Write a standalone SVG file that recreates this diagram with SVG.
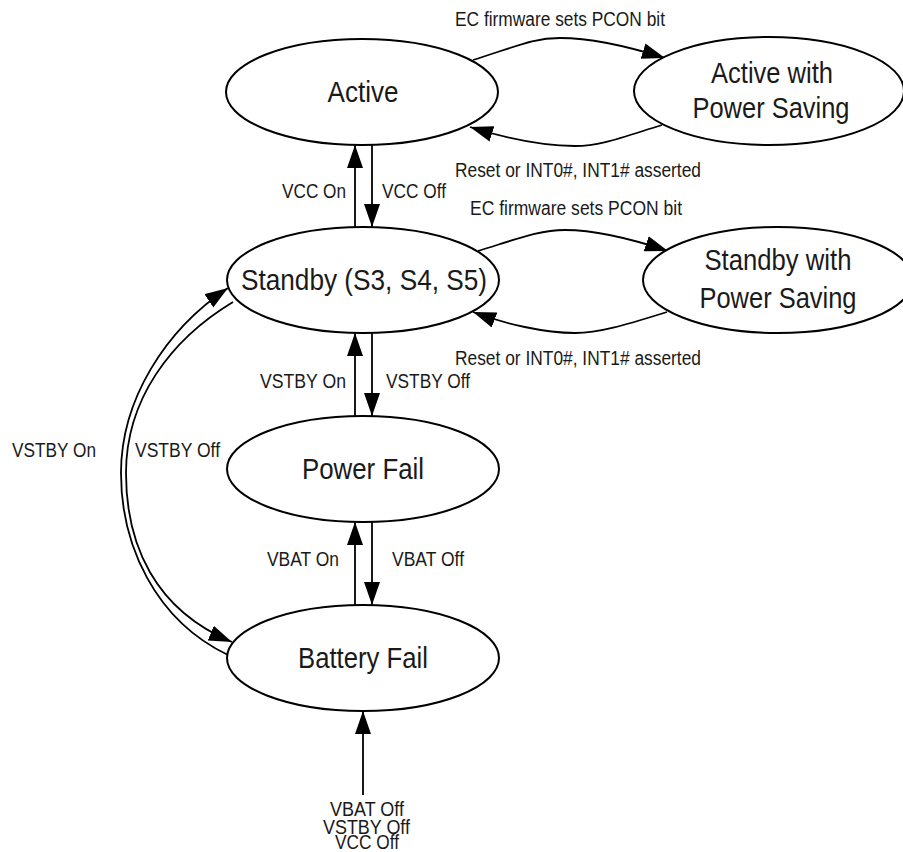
<svg xmlns="http://www.w3.org/2000/svg" width="903" height="852" viewBox="0 0 903 852">
<style>
.node ellipse{fill:#fff;stroke:#000;stroke-width:2}
.big{font-family:"Liberation Sans",Arial,sans-serif;font-size:30px;fill:#1a1a1a;text-anchor:middle}
.sm{font-family:"Liberation Sans",Arial,sans-serif;font-size:19.5px;fill:#1a1a1a}
.mid{text-anchor:middle}
.conn path,.conn line{fill:none;stroke:#000;stroke-width:1.8;marker-end:url(#ah)}
</style>
<defs>
<marker id="ah" markerUnits="userSpaceOnUse" markerWidth="24" markerHeight="18" refX="23" refY="8" orient="auto">
<path d="M0,0 L23,8 L0,16 z" fill="#000"/>
</marker>
</defs>
<rect width="903" height="852" fill="#fff"/>
<g id="connectors" class="conn">
<path d="M473,60 C520,45 535,38 560,38 C590,38 630,47 665,58"/>
<path d="M662,125 C620,138 600,146 575,146 C545,146 505,138 470,127"/>
<path d="M478,251 C520,238 540,230 565,230 C595,230 635,240 668,251"/>
<path d="M667,312 C625,325 600,333 575,333 C545,333 505,324 473,312"/>
<line x1="355" y1="227" x2="355" y2="145"/>
<line x1="372" y1="145" x2="372" y2="227"/>
<line x1="355" y1="416" x2="355" y2="333"/>
<line x1="372" y1="333" x2="372" y2="416"/>
<line x1="355" y1="605" x2="355" y2="522"/>
<line x1="372" y1="522" x2="372" y2="605"/>
<line x1="363" y1="795" x2="363" y2="711"/>
<path d="M228,655 C155,620 121,545 121,473 C121,400 165,330 228,288"/>
<path d="M233,302 C170,340 126,400 126,473 C126,545 155,610 232,642"/>
</g>
<g id="active" class="node"><ellipse cx="362" cy="92" rx="136" ry="53"/><text class="big" x="363" y="102" textLength="71" lengthAdjust="spacingAndGlyphs">Active</text></g>
<g id="active-ps" class="node"><ellipse cx="769" cy="91" rx="135" ry="54"/><text class="big" x="772" y="83" textLength="122" lengthAdjust="spacingAndGlyphs">Active with</text><text class="big" x="771" y="118" textLength="157" lengthAdjust="spacingAndGlyphs">Power Saving</text></g>
<g id="standby" class="node"><ellipse cx="363" cy="280" rx="136" ry="53"/><text class="big" x="364" y="290" textLength="246" lengthAdjust="spacingAndGlyphs">Standby (S3, S4, S5)</text></g>
<g id="standby-ps" class="node"><ellipse cx="778" cy="280" rx="135" ry="53"/><text class="big" x="778" y="270" textLength="147" lengthAdjust="spacingAndGlyphs">Standby with</text><text class="big" x="778" y="308" textLength="157" lengthAdjust="spacingAndGlyphs">Power Saving</text></g>
<g id="power-fail" class="node"><ellipse cx="363" cy="469" rx="136" ry="53"/><text class="big" x="363" y="479" textLength="122" lengthAdjust="spacingAndGlyphs">Power Fail</text></g>
<g id="battery-fail" class="node"><ellipse cx="363" cy="658" rx="136" ry="53"/><text class="big" x="363" y="668" textLength="130" lengthAdjust="spacingAndGlyphs">Battery Fail</text></g>
<g id="labels">
<text class="sm" x="455" y="26" textLength="210" lengthAdjust="spacingAndGlyphs">EC firmware sets PCON bit</text>
<text class="sm" x="455" y="177" textLength="246" lengthAdjust="spacingAndGlyphs">Reset or INT0#, INT1# asserted</text>
<text class="sm" x="470" y="215" textLength="212" lengthAdjust="spacingAndGlyphs">EC firmware sets PCON bit</text>
<text class="sm" x="455" y="365" textLength="246" lengthAdjust="spacingAndGlyphs">Reset or INT0#, INT1# asserted</text>
<text class="sm" x="282" y="198" textLength="64" lengthAdjust="spacingAndGlyphs">VCC On</text>
<text class="sm" x="382" y="198" textLength="64" lengthAdjust="spacingAndGlyphs">VCC Off</text>
<text class="sm" x="260" y="388" textLength="86" lengthAdjust="spacingAndGlyphs">VSTBY On</text>
<text class="sm" x="386" y="388" textLength="84" lengthAdjust="spacingAndGlyphs">VSTBY Off</text>
<text class="sm" x="267" y="566" textLength="72" lengthAdjust="spacingAndGlyphs">VBAT On</text>
<text class="sm" x="392" y="566" textLength="72" lengthAdjust="spacingAndGlyphs">VBAT Off</text>
<text class="sm" x="12" y="457" textLength="84" lengthAdjust="spacingAndGlyphs">VSTBY On</text>
<text class="sm" x="135" y="457" textLength="85" lengthAdjust="spacingAndGlyphs">VSTBY Off</text>
<text class="sm mid" x="367" y="816" textLength="74" lengthAdjust="spacingAndGlyphs">VBAT Off</text>
<text class="sm mid" x="366.5" y="834" textLength="87" lengthAdjust="spacingAndGlyphs">VSTBY Off</text>
<text class="sm mid" x="367" y="849" textLength="64" lengthAdjust="spacingAndGlyphs">VCC Off</text>
</g>
</svg>
